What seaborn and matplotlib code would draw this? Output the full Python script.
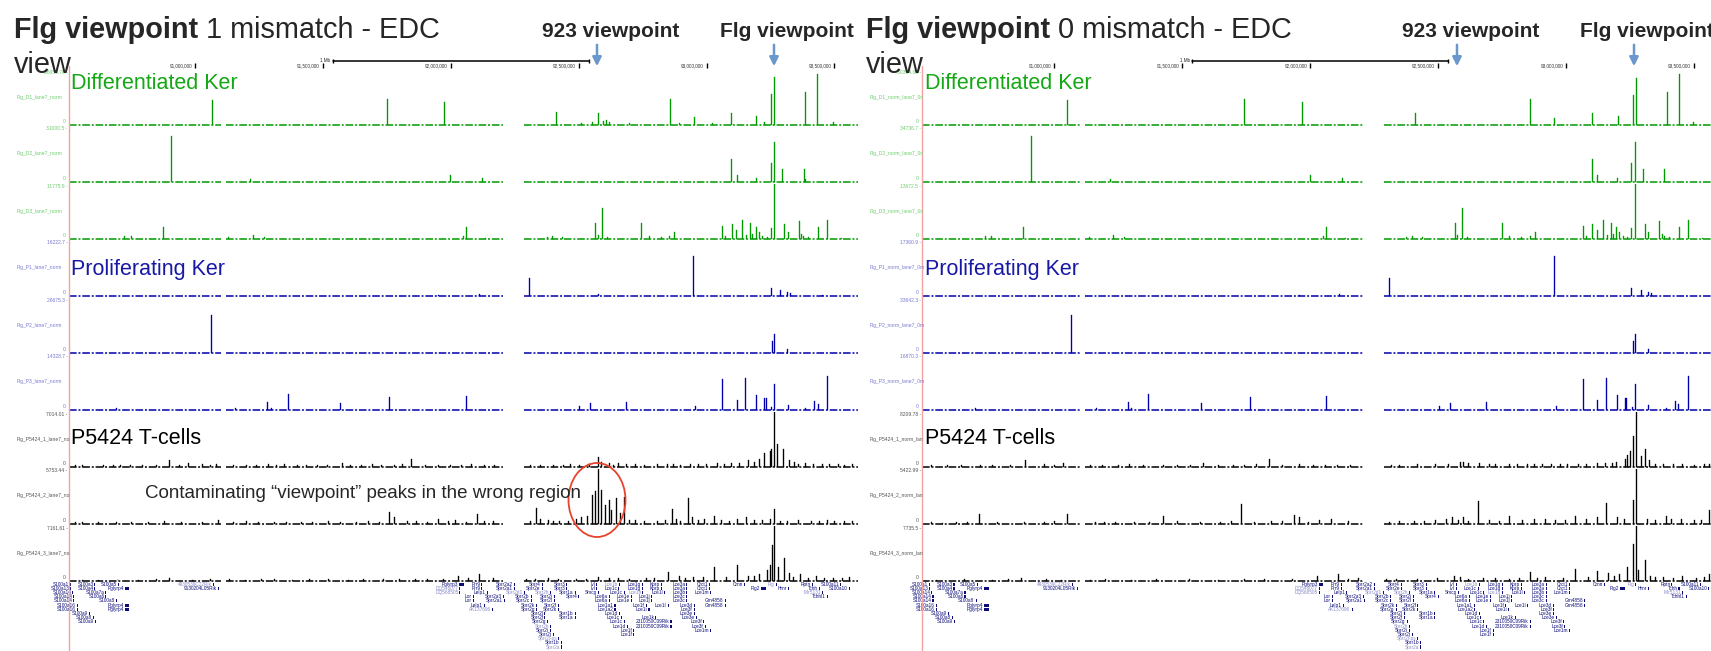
import matplotlib
matplotlib.use("Agg")
import matplotlib.pyplot as plt
from matplotlib import font_manager
from matplotlib.patches import Ellipse, Rectangle
import pandas as pd
import seaborn as sns

sns.set_theme(style="white")
_installed = {f.name for f in font_manager.fontManager.ttflist}
SANS = "Liberation Sans" if "Liberation Sans" in _installed else "DejaVu Sans"
plt.rcParams["font.family"] = [SANS, "DejaVu Sans"]

# ---------------- genome window (Mb, chr3 EDC) ----------------
LEFT_XLIM = (90.506, 93.592)
RIGHT_XLIM = (90.484, 93.566)
DATA_GAPS = [(91.100, 91.122), (92.205, 92.287)]
COORD_TICKS = [91.0, 91.5, 92.0, 92.5, 93.0, 93.5]
COORD_LABELS = ["91,000,000", "91,500,000", "92,000,000", "92,500,000", "93,000,000", "93,500,000"]
SCALE_BAR = (91.54, 92.54)

TRACK_NAMES_LEFT = ["Flg_D1_lane7_norm", "Flg_D2_lane7_norm", "Flg_D3_lane7_norm",
                    "Flg_P1_lane7_norm", "Flg_P2_lane7_norm", "Flg_P3_lane7_norm",
                    "Flg_P5424_1_lane7_no", "Flg_P5424_2_lane7_no", "Flg_P5424_3_lane7_no"]
TRACK_NAMES_RIGHT = ["Flg_D1_norm_lane7_0n", "Flg_D2_norm_lane7_0n", "Flg_D3_norm_lane7_0n",
                     "Flg_P1_norm_lane7_0m", "Flg_P2_norm_lane7_0m", "Flg_P3_norm_lane7_0m",
                     "Flg_P5424_1_norm_lan", "Flg_P5424_2_norm_lan", "Flg_P5424_3_norm_lan"]
TRACK_MAX_LEFT = ["36958.78", "31000.5", "11775.9", "16222.7", "26675.3", "14328.7",
                  "7014.01", "5753.44", "7161.61"]
TRACK_MAX_RIGHT = ["30394.09", "34736.7", "13672.5", "17360.9", "33642.3", "16870.3",
                   "8209.78", "5422.99", "7735.5"]

# ---------------- 4C signal, 1 mismatch (positions in Mb, % of view range) ----------------
L_D1_POS = [91.070, 91.751, 91.974, 92.413, 92.510, 92.552, 92.574, 92.595, 92.606, 92.617, 92.700,
            92.859, 92.895, 92.953, 93.024, 93.099, 93.197, 93.227, 93.253, 93.268, 93.388, 93.435, 93.495]
L_D1_VAL = [45, 47, 42, 24, 4, 6, 22, 8, 10, 6, 3, 47, 4, 14, 3, 21, 16, 5, 56, 88, 60, 93, 6]
L_D2_POS = [90.909, 91.217, 91.997, 92.124, 93.099, 93.120, 93.197, 93.253, 93.268, 93.298, 93.382, 93.388]
L_D2_VAL = [83, 6, 13, 8, 41, 13, 7, 35, 73, 24, 24, 5]
L_D3_POS = [90.727, 90.752, 90.877, 91.134, 91.228, 91.271, 92.049, 92.062, 92.135, 92.376, 92.398,
            92.435, 92.565, 92.574, 92.593, 92.612, 92.749, 92.777, 92.824, 92.857, 92.876, 93.064,
            93.077, 93.101, 93.118, 93.142, 93.157, 93.172, 93.182, 93.195, 93.206, 93.221, 93.238,
            93.253, 93.268, 93.307, 93.319, 93.362, 93.371, 93.379, 93.399, 93.439, 93.474, 93.527]
L_D3_VAL = [5, 5, 22, 3, 7, 4, 5, 21, 2, 4, 5, 3, 30, 8, 57, 3, 30, 5, 4, 5, 13, 24, 6, 27, 16, 35,
            8, 30, 10, 22, 12, 5, 4, 20, 100, 27, 13, 33, 10, 5, 3, 21, 35, 2]
L_P1_POS = [91.952, 92.113, 92.306, 92.574, 92.951, 93.253, 93.289, 93.317, 93.328, 93.452]
L_P1_VAL = [2, 3, 32, 3, 72, 15, 11, 7, 5, 2]
L_P2_POS = [91.065, 93.259, 93.268, 93.317]
L_P2_VAL = [70, 21, 35, 7]
L_P3_POS = [90.690, 91.160, 91.286, 91.299, 91.365, 91.569, 91.762, 92.062, 92.501, 92.544, 92.687,
            92.959, 93.064, 93.120, 93.154, 93.197, 93.227, 93.234, 93.255, 93.266, 93.319, 93.388,
            93.422, 93.437, 93.474]
L_P3_VAL = [3, 3, 15, 4, 29, 12, 24, 25, 8, 12, 15, 7, 56, 18, 59, 27, 21, 22, 5, 47, 9, 4, 16, 11, 61]
L_T1_POS = [90.560, 90.710, 90.795, 90.903, 90.978, 91.031, 91.085, 91.203, 91.288, 91.352, 91.438,
            91.578, 91.695, 91.845, 91.952, 92.081, 92.349, 92.467, 92.574, 92.587, 92.617, 92.659,
            92.724, 92.810, 92.874, 92.938, 93.002, 93.045, 93.099, 93.163, 93.206, 93.227, 93.249,
            93.255, 93.266, 93.277, 93.302, 93.324, 93.345, 93.388, 93.452, 93.517, 93.570,
            90.530, 90.640, 90.680, 90.750, 90.850, 90.940, 91.060, 91.150, 91.240, 91.320, 91.400,
            91.480, 91.520, 91.610, 91.650, 91.730, 91.780, 91.810, 91.900, 92.000, 92.040, 92.130,
            92.170, 92.310, 92.400, 92.440, 92.500, 92.540, 92.640, 92.690, 92.760, 92.850, 92.900,
            92.970, 93.070, 93.130, 93.190, 93.360, 93.420, 93.480, 93.540]
L_T1_VAL = [3, 4, 3, 12, 8, 5, 6, 4, 5, 5, 4, 8, 5, 15, 4, 5, 3, 5, 19, 10, 8, 7, 6, 5, 5, 6, 5, 7,
            8, 12, 15, 25, 30, 33, 100, 41, 33, 12, 9, 7, 5, 5, 6,
            3, 4, 3, 3, 4, 3, 4, 3, 3, 4, 3, 4, 3, 4, 3, 4, 3, 5, 3, 4, 3, 3, 4, 3, 4, 3, 4, 5, 4, 5,
            4, 5, 4, 5, 6, 7, 9, 6, 5, 6, 4]
L_T2_POS = [90.560, 90.752, 90.881, 91.095, 91.203, 91.310, 91.417, 91.524, 91.631, 91.760, 91.781,
            91.867, 91.952, 92.017, 92.102, 92.167, 92.334, 92.349, 92.381, 92.424, 92.488, 92.510,
            92.531, 92.552, 92.563, 92.574, 92.589, 92.602, 92.617, 92.632, 92.649, 92.664, 92.681,
            92.724, 92.810, 92.867, 92.884, 92.932, 92.947, 92.992, 93.034, 93.120, 93.157, 93.251,
            93.266, 93.317, 93.409, 93.474, 93.538,
            90.530, 90.620, 90.690, 90.820, 90.950, 91.030, 91.150, 91.250, 91.360, 91.460, 91.570,
            91.680, 91.720, 91.830, 91.910, 91.990, 92.060, 92.130, 92.310, 92.400, 92.460, 92.700,
            92.760, 92.840, 92.900, 92.970, 93.060, 93.090, 93.190, 93.220, 93.290, 93.360, 93.440,
            93.500, 93.570]
L_T2_VAL = [3, 4, 5, 8, 5, 4, 4, 5, 4, 21, 12, 6, 10, 8, 19, 6, 30, 10, 8, 6, 10, 12, 15, 53, 60,
            100, 62, 35, 44, 25, 47, 20, 50, 8, 6, 27, 10, 48, 12, 10, 15, 10, 12, 10, 27, 5, 6, 8, 5,
            3, 4, 3, 4, 3, 4, 3, 4, 3, 4, 3, 5, 4, 5, 4, 5, 4, 5, 6, 5, 6, 7, 6, 7, 6, 7, 8, 6, 7, 8,
            6, 7, 5, 6, 5]
L_T3_POS = [90.560, 90.903, 91.138, 91.310, 91.524, 91.738, 91.910, 92.028, 92.113, 92.167, 92.295,
            92.381, 92.488, 92.574, 92.659, 92.767, 92.852, 92.895, 92.949, 93.034, 93.120, 93.163,
            93.206, 93.238, 93.249, 93.259, 93.266, 93.281, 93.307, 93.324, 93.367, 93.431, 93.495,
            93.559,
            90.620, 90.700, 90.780, 90.850, 90.990, 91.060, 91.200, 91.260, 91.380, 91.450, 91.600,
            91.660, 91.800, 91.860, 91.970, 92.070, 92.330, 92.420, 92.530, 92.620, 92.700, 92.800,
            92.920, 92.990, 93.080, 93.190, 93.340, 93.400, 93.460, 93.530]
L_T3_VAL = [2, 5, 3, 3, 3, 3, 4, 10, 12, 5, 3, 6, 4, 7, 5, 5, 16, 10, 8, 25, 30, 10, 12, 20, 30, 65,
            100, 25, 42, 15, 12, 10, 6, 8,
            2, 3, 2, 3, 2, 3, 2, 3, 2, 3, 2, 3, 3, 4, 3, 5, 3, 4, 4, 5, 4, 6, 6, 7, 8, 9, 8, 6, 5, 6]

# ---------------- 4C signal, 0 mismatch ----------------
R_D1_POS = [91.052, 91.742, 91.969, 92.412, 92.862, 92.957, 93.102, 93.207, 93.263, 93.276, 93.398,
            93.445, 93.499]
R_D1_VAL = [45, 47, 41, 22, 47, 13, 21, 16, 55, 85, 60, 92, 5]
R_D2_POS = [90.912, 91.220, 92.000, 92.127, 93.102, 93.123, 93.200, 93.256, 93.271, 93.301, 93.385]
R_D2_VAL = [83, 6, 13, 8, 41, 13, 7, 35, 73, 24, 24]
R_D3_POS = [90.731, 90.756, 90.881, 91.138, 91.232, 91.275, 92.053, 92.066, 92.139, 92.380, 92.402,
            92.439, 92.569, 92.578, 92.597, 92.616, 92.753, 92.781, 92.828, 92.861, 92.880, 93.068,
            93.081, 93.105, 93.122, 93.146, 93.161, 93.176, 93.186, 93.199, 93.210, 93.225, 93.242,
            93.257, 93.272, 93.311, 93.323, 93.366, 93.375, 93.383, 93.403, 93.443, 93.478, 93.531]
R_D3_VAL = [5, 5, 22, 3, 7, 4, 5, 21, 2, 4, 5, 3, 30, 8, 57, 3, 30, 5, 4, 5, 13, 24, 6, 27, 16, 35,
            8, 30, 10, 22, 12, 5, 4, 20, 100, 27, 13, 33, 10, 5, 3, 21, 35, 2]
R_P1_POS = [91.956, 92.117, 92.310, 92.955, 93.257, 93.293, 93.321, 93.332]
R_P1_VAL = [2, 3, 32, 72, 15, 11, 7, 5]
R_P2_POS = [91.069, 93.263, 93.272, 93.321]
R_P2_VAL = [70, 21, 35, 7]
R_P3_POS = [90.694, 91.164, 91.290, 91.303, 91.369, 91.573, 91.766, 92.066, 92.505, 92.548, 92.691,
            92.963, 93.068, 93.124, 93.158, 93.201, 93.231, 93.238, 93.259, 93.270, 93.323, 93.392,
            93.426, 93.441, 93.478]
R_P3_VAL = [3, 3, 15, 4, 29, 12, 24, 25, 8, 12, 15, 7, 56, 18, 59, 27, 21, 22, 5, 47, 9, 4, 16, 11, 61]
R_T1_POS = [90.585, 90.713, 90.889, 90.960, 91.035, 91.142, 91.292, 91.427, 91.581, 91.742, 91.838,
            91.956, 92.063, 92.352, 92.492, 92.588, 92.599, 92.663, 92.727, 92.813, 92.877, 92.942,
            93.006, 93.049, 93.124, 93.156, 93.199, 93.231, 93.241, 93.252, 93.263, 93.276, 93.295,
            93.312, 93.327, 93.381, 93.456, 93.541, 93.560,
            90.520, 90.640, 90.760, 90.830, 91.000, 91.190, 91.250, 91.350, 91.480, 91.530, 91.640,
            91.700, 91.790, 91.890, 92.010, 92.110, 92.160, 92.320, 92.420, 92.540, 92.620, 92.700,
            92.780, 92.850, 92.910, 92.980, 93.080, 93.180, 93.350, 93.420, 93.500]
R_T1_VAL = [3, 4, 13, 6, 7, 4, 6, 4, 8, 4, 15, 5, 4, 3, 5, 10, 10, 8, 6, 6, 5, 5, 5, 6, 7, 8, 10,
            15, 22, 30, 56, 100, 20, 33, 12, 6, 5, 5, 5,
            3, 3, 4, 3, 4, 3, 4, 3, 4, 3, 4, 3, 5, 3, 4, 3, 4, 3, 5, 6, 7, 5, 6, 5, 6, 5, 6, 7, 6, 5, 4]
R_T2_POS = [90.563, 90.709, 90.884, 91.052, 91.195, 91.313, 91.427, 91.570, 91.731, 91.849, 91.939,
            91.956, 92.037, 92.084, 92.352, 92.492, 92.534, 92.556, 92.599, 92.659, 92.781, 92.877,
            93.038, 93.124, 93.160, 93.263, 93.276, 93.391, 93.413, 93.560,
            90.520, 90.620, 90.660, 90.780, 90.960, 91.000, 91.160, 91.240, 91.370, 91.480, 91.650,
            91.690, 91.780, 91.890, 91.990, 92.150, 92.310, 92.410, 92.450, 92.580, 92.620, 92.700,
            92.740, 92.830, 92.920, 92.960, 93.000, 93.080, 93.200, 93.230, 93.320, 93.350, 93.450,
            93.500, 93.530]
R_T2_VAL = [2, 18, 4, 18, 3, 4, 15, 4, 36, 5, 16, 12, 8, 10, 5, 8, 10, 13, 12, 41, 15, 10, 15, 12,
            38, 44, 100, 15, 10, 25,
            3, 4, 3, 4, 3, 5, 3, 4, 3, 5, 4, 5, 4, 5, 4, 5, 4, 6, 5, 7, 6, 8, 6, 7, 9, 8, 7, 10, 12, 9,
            10, 8, 9, 7, 8]
R_T3_POS = [90.874, 90.970, 91.142, 91.527, 91.742, 92.031, 92.112, 92.192, 92.299, 92.566, 92.588,
            92.727, 92.860, 92.920, 93.038, 93.124, 93.166, 93.209, 93.241, 93.263, 93.276, 93.284,
            93.312, 93.381, 93.456, 93.560,
            90.540, 90.650, 90.760, 90.820, 91.030, 91.200, 91.300, 91.400, 91.640, 91.820, 91.930,
            92.150, 92.340, 92.420, 92.500, 92.620, 92.680, 92.780, 92.820, 92.890, 92.990, 93.090,
            93.190, 93.330, 93.350, 93.420, 93.510, 93.540]
R_T3_VAL = [5, 4, 2, 3, 3, 10, 12, 6, 3, 10, 8, 5, 16, 8, 22, 18, 15, 12, 25, 68, 100, 20, 38, 8, 10, 12,
            2, 3, 2, 3, 2, 3, 2, 3, 2, 3, 3, 4, 3, 4, 5, 4, 5, 4, 6, 5, 6, 8, 9, 10, 7, 6, 6, 7]

# ---------------- RefSeq genes (label, start Mb, row, length Mb, light) ----------------
GENE_NAME = ["S100a1", "S100a3", "S100a5", "4930539C22Rik", "Pglyrp3", "Prr9", "Sprr2a2", "Sprr4",
             "Sprr3", "Ivl", "Lce1b", "Lce1g", "Kprp", "Lce3a", "Crct1", "Crnn", "Flg", "Rptn", "S100a11",
             "S100a13", "S100a4", "Pglyrp4", "9130204L05Rik", "DQ546077", "Prr9", "Sprr2a1", "Sprr2e",
             "Sprr3", "Ivl", "Lce1c", "Lce1g", "Kprp", "Lce3a", "Crct1", "Flg2", "Hrnr", "Tchh", "S100a10",
             "S100a14", "S100a7a", "DQ568505", "Lelp1", "Sprr2d1", "Sprr2h", "Sprr1a", "Smcp", "Lce1c",
             "Lce1h", "Lce1l", "Lce3b", "Lce1m", "Mir5131",
             "S100a14", "S100a6", "Lor", "Sprr2a3", "Sprr2b", "Sprr2j", "Sprr4", "Lce6a", "Lce1e", "Lce1j",
             "Lce3c", "Tchhl1",
             "S100a14", "S100a8", "Lor", "Sprr2a1", "Sprr2c", "Sprr2i", "Lce6a", "Lce1e", "Lce1j", "Lce3c",
             "Gm4858",
             "S100a16", "Pglyrp4", "Lelp1", "Sprr2k", "Sprr2f", "Lce1a1", "Lce1f", "Lce1l", "Lce3d", "Gm4858",
             "S100a16", "Pglyrp4", "AK137696", "Sprr2g", "Sprr2k", "Lce1a2", "Lce1i", "Lce3f",
             "S100a9", "Sprr2l", "Sprr1b", "Lce1d", "Lce3e",
             "S100a8", "Sprr2f", "Sprr1a", "Lce1c", "Lce1k", "Lce3e",
             "S100a9", "Sprr2g", "Lce1c", "2310050C09Rik", "Lce3f",
             "Sprr2h", "Lce1d", "2310050C09Rik", "Lce3f",
             "Sprr2i", "Lce1f", "Lce1m",
             "Sprr2j", "Lce1f",
             "Sprr2j-ps", "Sprr1b", "Sprr2a"]
GENE_POS = [90.510, 90.607, 90.699, 91.070, 92.034, 92.119, 92.248, 92.355, 92.452, 92.569, 92.659,
            92.749, 92.822, 92.921, 93.011, 93.148, 93.270, 93.411, 93.523,
            90.513, 90.607, 90.727, 91.091, 92.034, 92.119, 92.248, 92.355, 92.452, 92.569, 92.655,
            92.749, 92.822, 92.921, 93.011, 93.212, 93.319, 93.439, 93.555,
            90.521, 90.650, 92.034, 92.141, 92.285, 92.387, 92.484, 92.576, 92.677, 92.749, 92.835,
            92.921, 93.013, 93.452,
            90.525, 90.650, 92.085, 92.205, 92.312, 92.402, 92.499, 92.619, 92.704, 92.784, 92.921, 93.469,
            90.525, 90.693, 92.085, 92.209, 92.312, 92.402, 92.619, 92.704, 92.784, 92.921, 93.071,
            90.538, 90.727, 92.128, 92.334, 92.419, 92.640, 92.762, 92.848, 92.949, 93.071,
            90.538, 90.727, 92.162, 92.334, 92.419, 92.640, 92.773, 92.949,
            90.585, 92.366, 92.484, 92.659, 92.949,
            90.603, 92.366, 92.484, 92.664, 92.799, 92.959,
            90.609, 92.377, 92.677, 92.859, 92.987,
            92.387, 92.687, 92.859, 92.992,
            92.387, 92.713, 93.013,
            92.398, 92.713,
            92.419, 92.430, 92.430]
GENE_ROW = [0] * 19 + [1] * 19 + [2] * 14 + [3] * 12 + [4] * 11 + [5] * 10 + [6] * 8 + [7] * 5 + \
           [8] * 6 + [9] * 5 + [10] * 4 + [11] * 3 + [12] * 2 + [13, 14, 15]
GENE_LEN = [0.004] * len(GENE_NAME)
for _i, _n in enumerate(GENE_NAME):
    if _n.startswith("Pglyrp"):
        GENE_LEN[_i] = 0.017
    elif _n == "Flg2":
        GENE_LEN[_i] = 0.020
GENE_LIGHT = {"4930539C22Rik", "Lce1b", "Flg", "DQ546077", "DQ568505", "Sprr2d1", "Sprr2h",
              "Lce1h", "Mir5131", "AK137696", "Sprr2j-ps", "Sprr2a"}

# ---------------- styling ----------------
W, H = 1711, 651
GREEN, BLUE, BLACK = "#009a00", "#0000aa", "#000000"
TRACK_COLORS = [GREEN] * 3 + [BLUE] * 3 + [BLACK] * 3
LABEL_COLORS = ["#6fcc6f"] * 3 + ["#7a7ad2"] * 3 + ["#555555"] * 3
RED_LINE = "#f4a3a3"
ARROW = "#6b98cc"
GENE_DARK, GENE_PALE = "#0d0d7a", "#8a8ac8"
BIN = 0.0039

fig = plt.figure(figsize=(W / 100, H / 100), dpi=100)
fig.patch.set_facecolor("white")

panels = [
    dict(x0=68.6, x1=858.0, xlim=LEFT_XLIM, names=TRACK_NAMES_LEFT, maxes=TRACK_MAX_LEFT, label_x=17,
         tracks=[(L_D1_POS, L_D1_VAL), (L_D2_POS, L_D2_VAL), (L_D3_POS, L_D3_VAL),
                 (L_P1_POS, L_P1_VAL), (L_P2_POS, L_P2_VAL), (L_P3_POS, L_P3_VAL),
                 (L_T1_POS, L_T1_VAL), (L_T2_POS, L_T2_VAL), (L_T3_POS, L_T3_VAL)]),
    dict(x0=922.0, x1=1711.0, xlim=RIGHT_XLIM, names=TRACK_NAMES_RIGHT, maxes=TRACK_MAX_RIGHT, label_x=870,
         tracks=[(R_D1_POS, R_D1_VAL), (R_D2_POS, R_D2_VAL), (R_D3_POS, R_D3_VAL),
                 (R_P1_POS, R_P1_VAL), (R_P2_POS, R_P2_VAL), (R_P3_POS, R_P3_VAL),
                 (R_T1_POS, R_T1_VAL), (R_T2_POS, R_T2_VAL), (R_T3_POS, R_T3_VAL)]),
]


def px_axes(x0, x1, top, bottom):
    return fig.add_axes([x0 / W, 1 - bottom / H, (x1 - x0) / W, (bottom - top) / H])


def baseline_segments(xlim):
    segs, start = [], xlim[0]
    for a, b in DATA_GAPS:
        segs.append((start, a))
        start = b
    segs.append((start, xlim[1]))
    return segs


# overlay in pixel coordinates for annotations
ov = fig.add_axes([0, 0, 1, 1])
ov.set_xlim(0, W)
ov.set_ylim(H, 0)
ov.axis("off")
ov.set_zorder(10)
ov.patch.set_alpha(0)

for p in panels:
    x0, x1, xlim = p["x0"], p["x1"], p["xlim"]
    for i, (pos, val) in enumerate(p["tracks"]):
        base = 125 + 57 * i
        ax = px_axes(x0, x1, base - 55, base + 1)
        df = pd.DataFrame({"pos": pos, "signal": val})
        sns.histplot(data=df, x="pos", weights="signal", binwidth=BIN, binrange=xlim,
                     color=TRACK_COLORS[i], alpha=1, element="bars", fill=True,
                     linewidth=0.25, edgecolor=TRACK_COLORS[i], ax=ax)
        # empty bins would leave a hairline edge along the axis; drop them
        for bar in list(ax.patches):
            if bar.get_height() <= 0:
                bar.remove()
        for a, b in baseline_segments(xlim):
            ax.plot([a, b], [0, 0], color=TRACK_COLORS[i], lw=1.1,
                    dashes=(5, 1.2, 1.3, 1.2), solid_capstyle="butt")
        ax.set_xlim(xlim)
        ax.set_ylim(-1.8, 100)
        ax.axis("off")
        # track annotations
        ov.text(p["label_x"], base - 28, p["names"][i], fontsize=3.6, color=LABEL_COLORS[i],
                ha="left", va="center")
        ov.text(x0 - 3, base - 1, "0", fontsize=3.6, color=LABEL_COLORS[i], ha="right", va="bottom")
        ov.text(x0 - 1, base - 53, p["maxes"][i] + " -", fontsize=3.6, color=LABEL_COLORS[i],
                ha="right", va="center")

    # coordinate ruler
    rax = px_axes(x0, x1, 54, 70)
    rax.set_xlim(xlim)
    rax.set_ylim(16, 0)
    rax.axis("off")
    rax.vlines(COORD_TICKS, 9, 14, color="black", lw=1)
    for t, lab in zip(COORD_TICKS, COORD_LABELS):
        rax.text(t - 0.012, 12, lab, fontsize=3.3, ha="right", va="center", color="#333333")
    rax.plot(SCALE_BAR, [7, 7], color="black", lw=1.1)
    rax.vlines(SCALE_BAR, 5, 9, color="black", lw=1)
    rax.text(SCALE_BAR[0] - 0.01, 6.5, "1 Mb", fontsize=3.3, ha="right", va="center")

    # gene track
    gax = px_axes(x0, x1, 582, 651)
    gax.set_xlim(xlim)
    gax.set_ylim(15.93, -0.5)
    gax.axis("off")
    for name, gpos, row, glen in zip(GENE_NAME, GENE_POS, GENE_ROW, GENE_LEN):
        col = GENE_PALE if name in GENE_LIGHT else GENE_DARK
        gax.add_patch(Rectangle((gpos, row - 0.38), glen, 0.76, color=GENE_DARK, lw=0, clip_on=False))
        gax.text(gpos - 0.004, row, name, fontsize=3.4, color=col, ha="right", va="center", clip_on=False)

    # red guide line at the window start
    ov.plot([x0, x0], [66, H], color=RED_LINE, lw=1.0)

# titles and labels
TITLE_TAILS = [" 1 mismatch - EDC", " 0 mismatch - EDC"]
for (tx, vx923, vxflg, gx), tail in zip([(14, 597, 774, 71), (866, 1457, 1634, 925)], TITLE_TAILS):
    t1 = ov.text(tx, 38, "Flg viewpoint", fontsize=20.8, fontweight="bold", va="baseline", ha="left")
    ov.annotate(tail, xy=(1, 0), xycoords=t1, fontsize=20.8, va="bottom", ha="left")
    ov.text(tx, 73, "view", fontsize=20.8, va="baseline", ha="left")
    ov.text(vx923 + 14, 37, "923 viewpoint", fontsize=15, fontweight="bold", ha="center", va="baseline")
    ov.text(vxflg + 13, 37, "Flg viewpoint", fontsize=15, fontweight="bold", ha="center", va="baseline")
    for ax_x in (vx923, vxflg):
        ov.annotate("", xy=(ax_x, 69), xytext=(ax_x, 42),
                    arrowprops=dict(arrowstyle="-|>", color=ARROW, lw=1.8, mutation_scale=13))
    ov.text(gx, 89, "Differentiated Ker", fontsize=15.5, color="#14a814", va="baseline")
    ov.text(gx, 275, "Proliferating Ker", fontsize=15.5, color="#1818a6", va="baseline")
    ov.text(gx, 444, "P5424 T-cells", fontsize=15.5, color="black", va="baseline")

ov.text(145, 498, "Contaminating \u201cviewpoint\u201d peaks in the wrong region", fontsize=13.5,
        va="baseline", ha="left")
ov.add_patch(Ellipse((597, 500), 57, 74, fill=False, ec="#e8432e", lw=1.3))

fig.savefig("out.png", dpi=100, facecolor="white")
